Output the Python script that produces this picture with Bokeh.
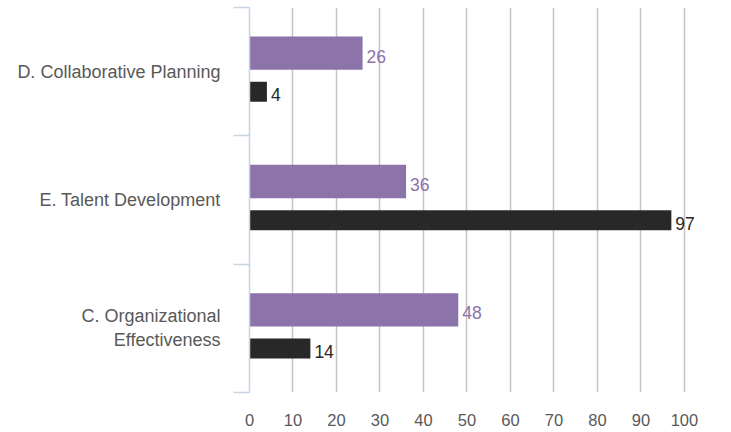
from bokeh.plotting import figure
from bokeh.models import Range1d, FixedTicker, LinearAxis, ColumnDataSource
from bokeh.transform import dodge
from bokeh.embed import file_html
from bokeh.resources import INLINE
from bokeh.core.properties import value

# ---- data (bottom to top) ----
categories = ["C. Organizational\nEffectiveness", "E. Talent Development", "D. Collaborative Planning"]
series_purple = [48, 36, 26]
series_black = [14, 97, 4]
x_ticks = [0, 10, 20, 30, 40, 50, 60, 70, 80, 90, 100]

PURPLE = "#8c73aa"
BLACK = "#282828"
FONT = "Liberation Sans"

positions = list(range(len(categories)))
src = ColumnDataSource(dict(
    y=positions,
    a=series_purple,
    b=series_black,
    a_lbl=[str(v) for v in series_purple],
    b_lbl=[str(v) for v in series_black],
))

p = figure(width=731, height=432,
           x_range=Range1d(0, 108.3), y_range=Range1d(-0.5, len(categories) - 0.5),
           output_backend="svg", toolbar_location=None,
           y_axis_location=None,
           min_border_left=249, min_border_top=7, min_border_right=11, min_border_bottom=40)
p.outline_line_color = None
p.background_fill_color = "white"
p.border_fill_color = "white"

# x axis
xa = p.xaxis[0]
xa.ticker = FixedTicker(ticks=x_ticks)
xa.axis_line_color = None
xa.major_tick_line_color = None
xa.minor_tick_line_color = None
xa.major_tick_out = 0
xa.major_tick_in = 0
xa.major_label_standoff = 21
xa.major_label_text_font = FONT
xa.major_label_text_font_size = "16.5px"
xa.major_label_text_color = "#595959"

# grid
p.xgrid.ticker = FixedTicker(ticks=x_ticks[1:])
p.xgrid.grid_line_color = "#c4c4c4"
p.xgrid.grid_line_width = 1.5
p.ygrid.grid_line_color = None

# inner left axis: category separators
boundaries = [i - 0.5 for i in range(len(categories) + 1)]
sep_axis = LinearAxis(ticker=FixedTicker(ticks=boundaries),
                      major_label_overrides={b: "" for b in boundaries},
                      major_label_text_font_size="0px",
                      major_label_standoff=0,
                      major_tick_out=16, major_tick_in=0,
                      minor_tick_line_color=None,
                      axis_line_color="#c5d3e4", axis_line_width=1.5,
                      major_tick_line_color="#c5d3e4", major_tick_line_width=1.5)
p.add_layout(sep_axis, "left")

# outer left axis: category labels
lab_axis = LinearAxis(ticker=FixedTicker(ticks=positions),
                      major_label_overrides={i: c for i, c in zip(positions, categories)},
                      major_label_standoff=13,
                      major_tick_out=0, major_tick_in=0,
                      major_tick_line_color=None, minor_tick_line_color=None,
                      axis_line_color=None,
                      major_label_text_font=FONT,
                      major_label_text_font_size="18px",
                      major_label_text_color="#595959")
p.add_layout(lab_axis, "left")

# bars
p.hbar(y=dodge("y", 0.144, range=p.y_range), left=0, right="a", height=0.26,
       source=src, fill_color=PURPLE, line_color=None)
p.hbar(y=dodge("y", -0.157, range=p.y_range), left=0, right="b", height=0.156,
       source=src, fill_color=BLACK, line_color=None)

# value labels
p.text(x="a", y=dodge("y", 0.144, range=p.y_range), text="a_lbl", source=src,
       x_offset=4, y_offset=3, text_baseline="middle", text_align="left",
       text_font=value(FONT), text_font_size="17.5px", text_color=PURPLE)
p.text(x="b", y=dodge("y", -0.157, range=p.y_range), text="b_lbl", source=src,
       x_offset=4, y_offset=3, text_baseline="middle", text_align="left",
       text_font=value(FONT), text_font_size="17.5px", text_color=BLACK)

open("out.html", "w").write(file_html(p, INLINE))
